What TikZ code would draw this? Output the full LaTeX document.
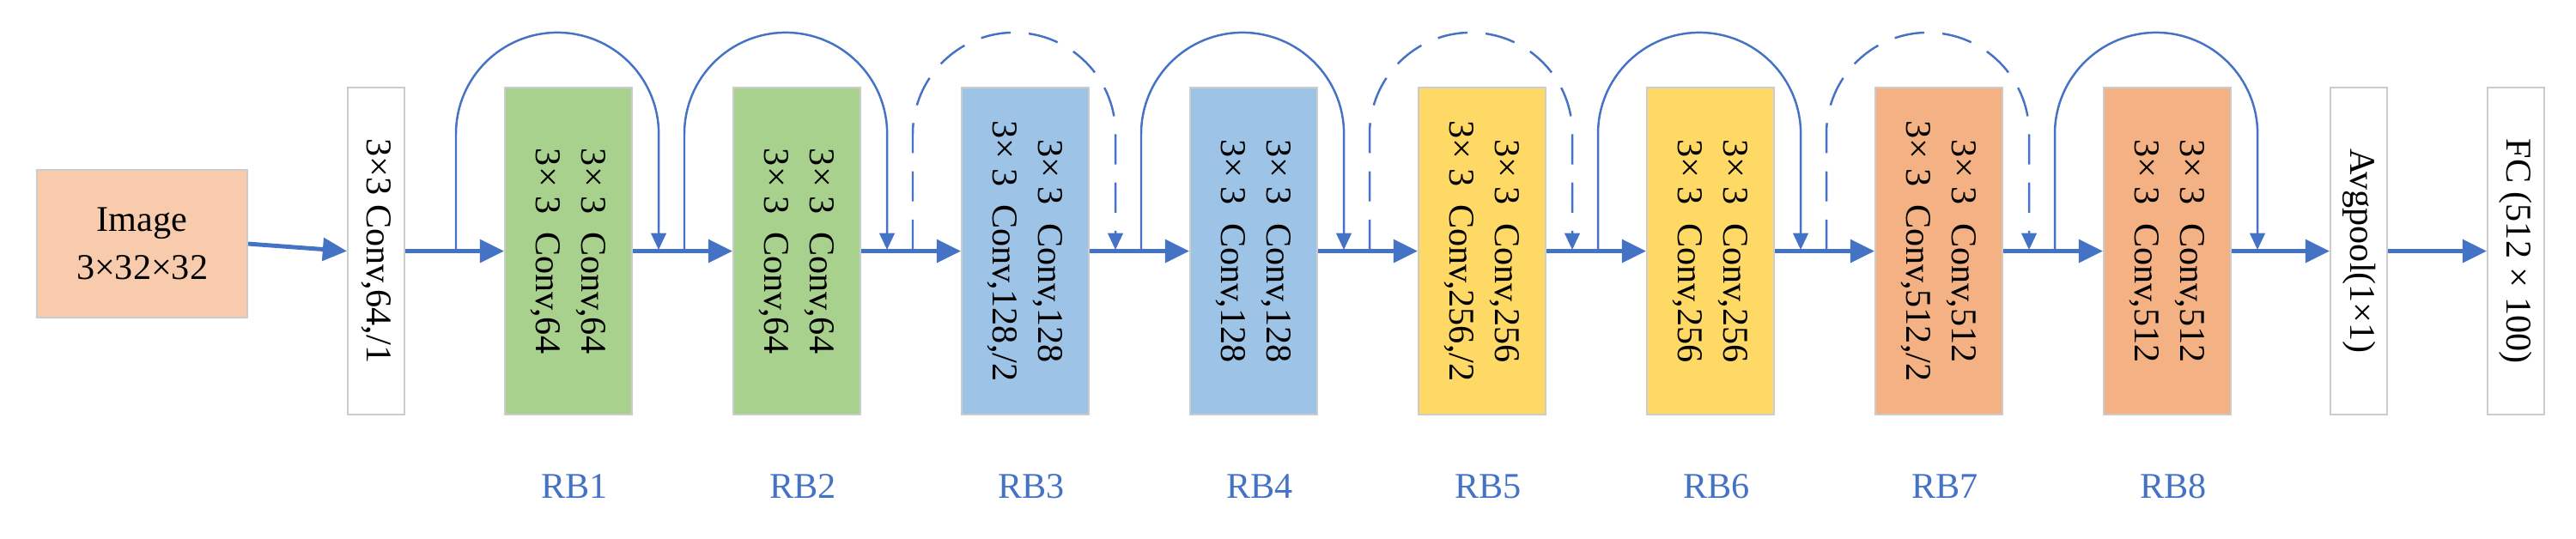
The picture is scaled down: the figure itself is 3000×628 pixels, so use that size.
\documentclass[tikz,border=0pt]{standalone}
\usepackage{fontspec}
\setmainfont{Liberation Serif}
\usetikzlibrary{arrows.meta}
\definecolor{lb}{HTML}{4472C4}
\definecolor{cimg}{HTML}{F8CBAD}
\definecolor{cg}{HTML}{A9D18E}
\definecolor{cb}{HTML}{9DC3E6}
\definecolor{cy}{HTML}{FFD966}
\definecolor{co}{HTML}{F4B183}
\begin{document}
\begin{tikzpicture}[x=0.01cm,y=-0.01cm,
  box/.style={draw=black!20,line width=0.6pt,minimum height=381*0.01cm,inner sep=0pt,anchor=north west},
  rb/.style={box,minimum width=148*0.01cm},
  thin/.style={box,minimum width=66*0.01cm,fill=white},
  vt/.style={rotate=-90,align=center,font=\fontsize{12}{15}\selectfont},
  main/.style={draw=lb,line width=1.4pt,-{Triangle[length=8pt,width=7.5pt]}},
  skip/.style={draw=lb,line width=0.7pt,-{Triangle[length=5.5pt,width=5pt]}},
  sol/.style={},
  dsh/.style={dash pattern=on 10pt off 6pt},
  lab/.style={text=lb,font=\fontsize{12}{14}\selectfont}]
\useasboundingbox (0,0) rectangle (3000,628);
\node[draw=black!20,line width=0.6pt,fill=cimg,minimum width=245*0.01cm,minimum height=172*0.01cm,anchor=north west,align=center,font=\fontsize{12}{16}\selectfont] (img) at (42,197) {Image\\3×32×32};
\node[thin] (c0) at (404,101) {};
\node[vt] at (c0.center) {3×3 Conv,64,/1};
\foreach \i/\c/\t in {1/cg/{3× 3 \ Conv,64\\3× 3 \ Conv,64},2/cg/{3× 3 \ Conv,64\\3× 3 \ Conv,64},3/cb/{3× 3 \ Conv,128\\3× 3 \ Conv,128,/2},4/cb/{3× 3 \ Conv,128\\3× 3 \ Conv,128},5/cy/{3× 3 \ Conv,256\\3× 3 \ Conv,256,/2},6/cy/{3× 3 \ Conv,256\\3× 3 \ Conv,256},7/co/{3× 3 \ Conv,512\\3× 3 \ Conv,512,/2},8/co/{3× 3 \ Conv,512\\3× 3 \ Conv,512}}{
  \node[rb,fill=\c] (rb\i) at ({587+266*(\i-1)},101) {};
  \node[vt] at (rb\i.center) {\t};
  \node[lab] (l\i) at ({661+266*(\i-1)+8},567) {RB\i};
}
\node[thin] (ap) at (2713,101) {};
\node[vt] at (ap.center) {Avgpool(1×1)};
\node[thin] (fc) at (2896,101) {};
\node[vt] at (fc.center) {FC (512 × 100)};
\draw[main] (img.east) -- (c0.west);
\draw[main] (c0.east) -- (rb1.west);
\foreach \i [evaluate=\i as \j using int(\i+1)] in {1,...,7}{\draw[main] (rb\i.east) -- (rb\j.west);}
\draw[main] (rb8.east) -- (ap.west);
\draw[main] (ap.east) -- (fc.west);
\foreach \i/\d in {1/sol,2/sol,3/dsh,4/sol,5/dsh,6/sol,7/dsh,8/sol}{
  \coordinate (s\i) at ({587+266*(\i-1)-56},291);
  \coordinate (e\i) at ({587+266*(\i-1)+148+32},291);
  \draw[skip,\d] (s\i) -- ++(0,-135) arc[start angle=180,end angle=0,radius=1.18cm] -- (e\i);
}
\end{tikzpicture}
\end{document}
